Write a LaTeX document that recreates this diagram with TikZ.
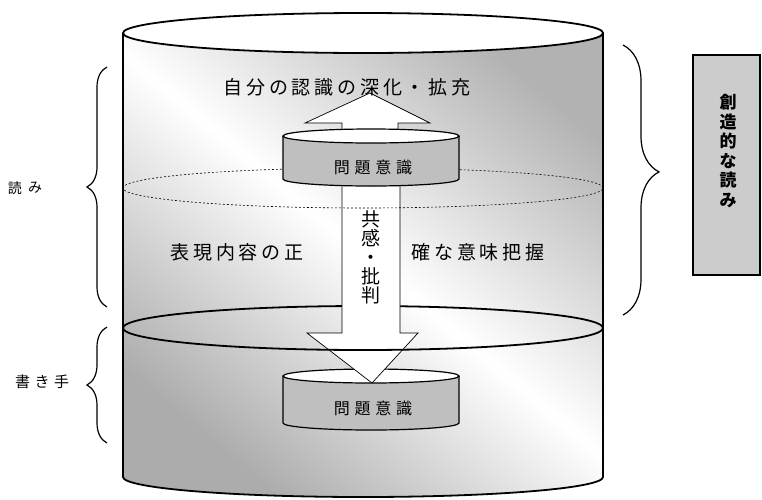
\documentclass[tikz,border=0pt]{standalone}
\usepackage{fontspec}
\newfontfamily\jp{Noto Sans CJK JP}
\usetikzlibrary{decorations.pathreplacing}
\begin{document}
\begin{tikzpicture}[x=1pt,y=-1pt,
  rim/.style={line width=1.8pt},
  smallrim/.style={line width=1.2pt},
  hollow/.style={fill=white,draw=black,line width=0.7pt},
  bigtxt/.style={font=\jp\fontsize{19}{19}\selectfont\addfontfeature{LetterSpace=20}},
  captxt/.style={font=\jp\fontsize{16}{16}\selectfont\addfontfeature{LetterSpace=30}},
  sidetxt/.style={font=\jp\fontsize{14}{14}\selectfont},
  bracestyle/.style={decorate,decoration={brace,amplitude=#1},line width=1.2pt}]
\useasboundingbox (0,0) rectangle (762,499);

% big cylinder body
\shade[top color=gray!60, bottom color=gray!65, middle color=white, shading angle=-40]
  (123,33) -- (123,477) arc[start angle=180,end angle=360,x radius=240pt,y radius=20pt]
  -- (603,33) arc[start angle=0,end angle=180,x radius=240pt,y radius=20pt] -- cycle;
\fill[white] (363,33) ellipse[x radius=240pt,y radius=20pt];
\draw[rim] (123,33) -- (123,477) arc[start angle=180,end angle=360,x radius=240pt,y radius=20pt]
  -- (603,33);
\draw[rim] (363,33) ellipse[x radius=240pt,y radius=20pt];

% middle solid ellipse, back half
\draw[rim] (603,328) arc[start angle=0,end angle=180,x radius=240pt,y radius=22pt];

% lower small cylinder
\fill[gray!50] (283,376) -- (283,423) arc[start angle=180,end angle=360,x radius=88pt,y radius=7pt] -- (459,376) -- cycle;
\fill[white] (371,376) ellipse[x radius=88pt,y radius=7pt];
\draw[smallrim] (283,376) -- (283,423) arc[start angle=180,end angle=360,x radius=88pt,y radius=7pt] -- (459,376);
\draw[smallrim] (371,376) ellipse[x radius=88pt,y radius=7pt];
\node[captxt] (pb) at (373,408) {問題意識};

% down arrow
\draw[hollow] (342,186) -- (342,333) -- (307,333) -- (372,383) -- (418,333) -- (400,333) -- (400,186);

% middle solid ellipse, front half
\draw[rim] (123,328) arc[start angle=180,end angle=360,x radius=240pt,y radius=22pt];

% dashed ellipse
\draw[line width=0.6pt,dash pattern=on 2pt off 2pt] (363,188) ellipse[x radius=240pt,y radius=20pt];

% up arrow
\draw[hollow] (342,138) -- (342,123) -- (305,123) -- (370,93) -- (430,123) -- (398,123) -- (398,138);

% upper small cylinder
\fill[gray!50] (283,136) -- (283,179) arc[start angle=180,end angle=360,x radius=88pt,y radius=7pt] -- (459,136) -- cycle;
\fill[white] (371,136) ellipse[x radius=88pt,y radius=7pt];
\draw[smallrim] (283,136) -- (283,179) arc[start angle=180,end angle=360,x radius=88pt,y radius=7pt] -- (459,136);
\draw[smallrim] (371,136) ellipse[x radius=88pt,y radius=7pt];
\node[captxt] (pt) at (373,167) {問題意識};

% texts in cylinder
\node[bigtxt] (deep) at (347,87) {自分の認識の深化・拡充};
\node[bigtxt] (hyoL) at (237,252) {表現内容の正};
\node[bigtxt] (hyoR) at (478,252) {確な意味把握};
\node[bigtxt,align=center] (kyo) at (371,257)
  {\fontsize{19}{27}\selectfont 共\\感\\・\\批\\判};

% braces
\coordinate (lb1) at (107,307); \coordinate (lt1) at (107,67);
\coordinate (lb2) at (107,443); \coordinate (lt2) at (107,327);
\coordinate (rt) at (623,45); \coordinate (rb) at (623,315);
\draw[bracestyle=20pt] (lb1) -- (lt1);
\draw[bracestyle=20pt] (lb2) -- (lt2);
\draw[bracestyle=36pt,decoration={aspect=0.47}] (rt) -- (rb);

\node[sidetxt] (yo1) at (15,188) {読};
\node[sidetxt] (yo2) at (35,188) {み};
\node[sidetxt,font=\jp\fontsize{15}{15}\selectfont\addfontfeature{LetterSpace=30}] (kaki) at (42,382) {書き手};

% right box
\draw[fill=gray!40,line width=1.6pt] (693,55) rectangle (760,275);
\node[align=center,font=\jp\bfseries\fontsize{17}{19.6}\selectfont] (sozo) at (728,151)
  {創\\造\\的\\な\\読\\み};
\end{tikzpicture}
\end{document}
